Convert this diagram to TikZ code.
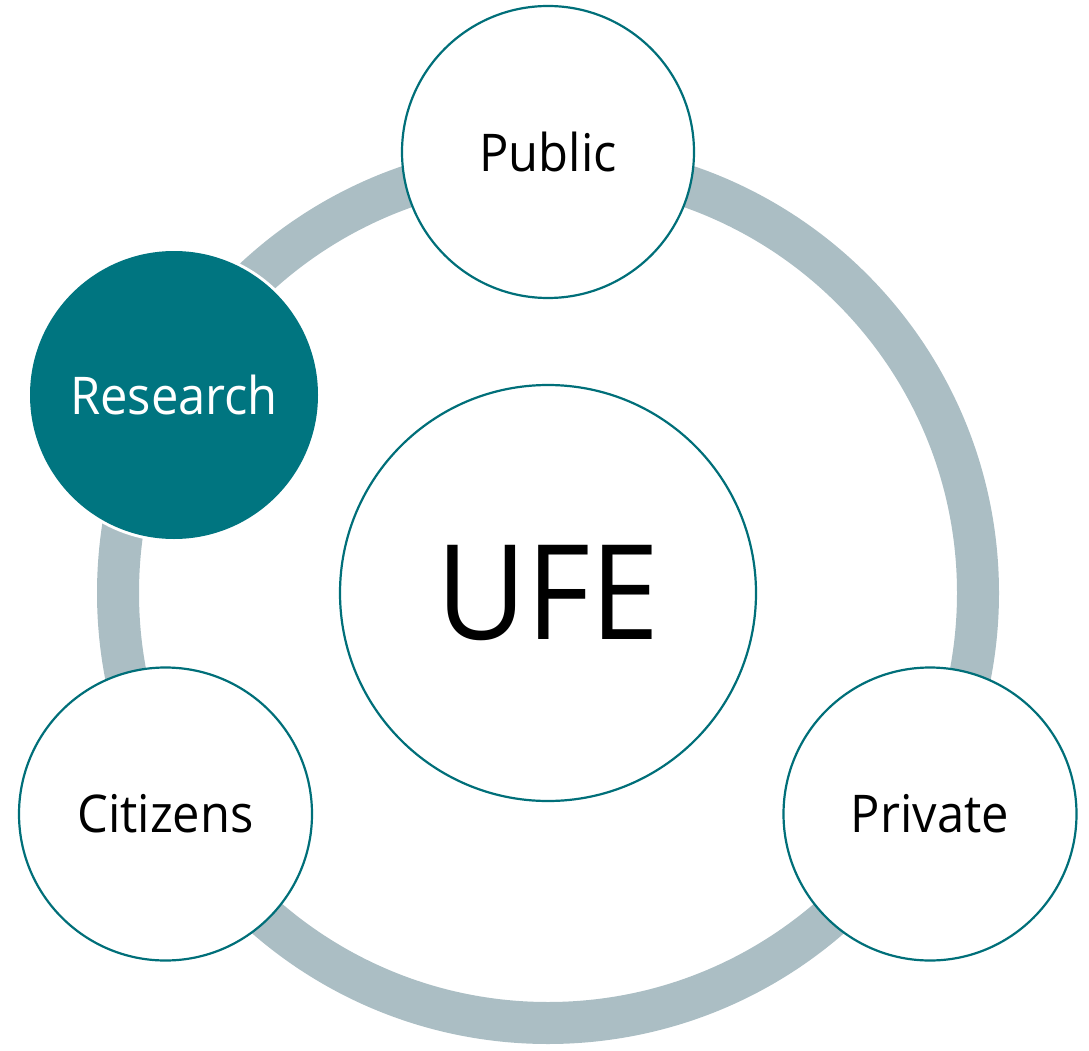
\documentclass[tikz,border=0pt]{standalone}
\usepackage{fontspec}
\setmainfont{Open Sans}[FakeStretch=0.94]
\definecolor{ringgray}{HTML}{ABBEC4}
\definecolor{teal1}{HTML}{007580}
\definecolor{tealline}{HTML}{006F79}
\begin{document}
\begin{tikzpicture}[x=1pt,y=-1pt,
  outer/.style={circle,draw=tealline,line width=2.2pt,fill=white,inner sep=0pt,minimum size=#1},
  lbl/.style={font=\fontsize{52}{60}\selectfont}]
\useasboundingbox (0,0) rectangle (1089,1051);
\coordinate (c) at (548,593);
\draw[ringgray,line width=42pt] (c) circle[radius=430];
\node[outer=416pt] (ufe) at (548,593) {\fontsize{132}{150}\selectfont UFE};
\node[outer=292pt,lbl] (pub) at (548,152) {Public};
\node[circle,fill=white,inner sep=0pt,minimum size=294pt] at (174,395) {};
\node[circle,fill=teal1,inner sep=0pt,minimum size=288pt,text=white,lbl] (res) at (174,395) {Research};
\node[outer=293pt,lbl] (cit) at (165.5,814) {Citizens};
\node[outer=293pt,lbl] (pri) at (930,814) {Private};
\end{tikzpicture}
\end{document}
